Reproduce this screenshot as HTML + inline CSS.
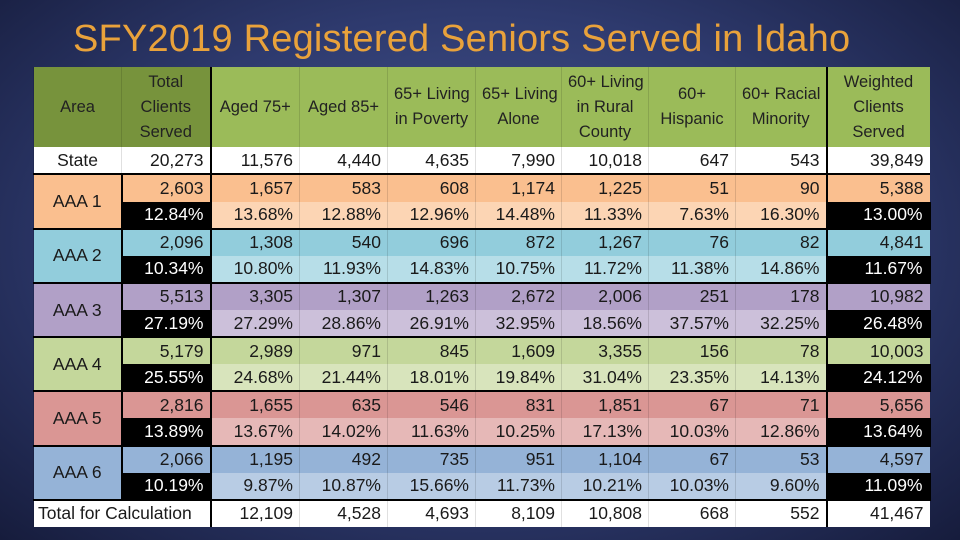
<!DOCTYPE html>
<html><head><style>
body{margin:0;width:960px;height:540px;overflow:hidden;background:radial-gradient(ellipse at 50% 45%,#4a5a94 0%,#2e3a6e 55%,#161c3c 100%);font-family:"Liberation Sans",sans-serif;}
.t{position:absolute;left:73px;top:18px;font-size:38px;color:#e9a23b;white-space:nowrap;letter-spacing:0.2px;}
table{position:absolute;left:33px;top:67px;width:896px;height:460px;border-collapse:collapse;table-layout:fixed;font-size:17.5px;color:#1a1a1a;}
td{padding:0 6px;text-align:right;white-space:nowrap;border-left:1px solid rgba(0,0,0,.12);}
tr.h td{text-align:center;background:#9bbb59;height:80px;line-height:25px;font-size:16.5px;color:#222;}
tr.h td.d{background:#77933c;}
td.a{text-align:center;border-right:2px solid #000;}
td.k{background:#000;color:#fff;border-right:2px solid #000;}
td.w{border-left:2px solid #000;}
tr.s td{background:#fff;height:26px;}
tr.top td{border-top:2px solid #000;}
.r td{height:26px;}
</style></head><body>
<div class="t">SFY2019 Registered Seniors Served in Idaho</div>
<table>
<colgroup><col style="width:88px"><col style="width:89px"><col style="width:89px"><col style="width:88px"><col style="width:88px"><col style="width:86px"><col style="width:87px"><col style="width:87px"><col style="width:91px"><col style="width:103px"></colgroup>
<tr class="h"><td class="d">Area</td><td class="d" style="border-right:2px solid #000">Total<br>Clients<br>Served</td><td>Aged 75+</td><td>Aged 85+</td><td>65+ Living<br>in Poverty</td><td>65+ Living<br>Alone</td><td>60+ Living<br>in Rural<br>County</td><td>60+<br>Hispanic</td><td>60+ Racial<br>Minority</td><td class="w">Weighted<br>Clients<br>Served</td></tr>
<tr class="s"><td style="text-align:center">State</td><td style="border-right:2px solid #000">20,273</td><td>11,576</td><td>4,440</td><td>4,635</td><td>7,990</td><td>10,018</td><td>647</td><td>543</td><td class="w">39,849</td></tr>

<tr class="r top" style="background:#fabf8f"><td class="a" rowspan="2" style="background:#fabf8f">AAA 1</td><td style="border-right:2px solid #000">2,603</td><td>1,657</td><td>583</td><td>608</td><td>1,174</td><td>1,225</td><td>51</td><td>90</td><td class="w">5,388</td></tr>
<tr class="r" style="background:#fcd5b4"><td class="k">12.84%</td><td>13.68%</td><td>12.88%</td><td>12.96%</td><td>14.48%</td><td>11.33%</td><td>7.63%</td><td>16.30%</td><td class="k w">13.00%</td></tr>

<tr class="r top" style="background:#92cddc"><td class="a" rowspan="2" style="background:#92cddc">AAA 2</td><td style="border-right:2px solid #000">2,096</td><td>1,308</td><td>540</td><td>696</td><td>872</td><td>1,267</td><td>76</td><td>82</td><td class="w">4,841</td></tr>
<tr class="r" style="background:#b7dee8"><td class="k">10.34%</td><td>10.80%</td><td>11.93%</td><td>14.83%</td><td>10.75%</td><td>11.72%</td><td>11.38%</td><td>14.86%</td><td class="k w">11.67%</td></tr>

<tr class="r top" style="background:#b1a0c7"><td class="a" rowspan="2" style="background:#b1a0c7">AAA 3</td><td style="border-right:2px solid #000">5,513</td><td>3,305</td><td>1,307</td><td>1,263</td><td>2,672</td><td>2,006</td><td>251</td><td>178</td><td class="w">10,982</td></tr>
<tr class="r" style="background:#ccc0da"><td class="k">27.19%</td><td>27.29%</td><td>28.86%</td><td>26.91%</td><td>32.95%</td><td>18.56%</td><td>37.57%</td><td>32.25%</td><td class="k w">26.48%</td></tr>

<tr class="r top" style="background:#c4d79b"><td class="a" rowspan="2" style="background:#c4d79b">AAA 4</td><td style="border-right:2px solid #000">5,179</td><td>2,989</td><td>971</td><td>845</td><td>1,609</td><td>3,355</td><td>156</td><td>78</td><td class="w">10,003</td></tr>
<tr class="r" style="background:#d8e4bc"><td class="k">25.55%</td><td>24.68%</td><td>21.44%</td><td>18.01%</td><td>19.84%</td><td>31.04%</td><td>23.35%</td><td>14.13%</td><td class="k w">24.12%</td></tr>

<tr class="r top" style="background:#da9694"><td class="a" rowspan="2" style="background:#da9694">AAA 5</td><td style="border-right:2px solid #000">2,816</td><td>1,655</td><td>635</td><td>546</td><td>831</td><td>1,851</td><td>67</td><td>71</td><td class="w">5,656</td></tr>
<tr class="r" style="background:#e6b8b7"><td class="k">13.89%</td><td>13.67%</td><td>14.02%</td><td>11.63%</td><td>10.25%</td><td>17.13%</td><td>10.03%</td><td>12.86%</td><td class="k w">13.64%</td></tr>

<tr class="r top" style="background:#95b3d7"><td class="a" rowspan="2" style="background:#95b3d7">AAA 6</td><td style="border-right:2px solid #000">2,066</td><td>1,195</td><td>492</td><td>735</td><td>951</td><td>1,104</td><td>67</td><td>53</td><td class="w">4,597</td></tr>
<tr class="r" style="background:#b8cce4"><td class="k">10.19%</td><td>9.87%</td><td>10.87%</td><td>15.66%</td><td>11.73%</td><td>10.21%</td><td>10.03%</td><td>9.60%</td><td class="k w">11.09%</td></tr>

<tr class="s top"><td colspan="2" style="text-align:left;padding-left:4px;border-right:2px solid #000">Total for Calculation</td><td>12,109</td><td>4,528</td><td>4,693</td><td>8,109</td><td>10,808</td><td>668</td><td>552</td><td class="w">41,467</td></tr>
</table>
</body></html>
